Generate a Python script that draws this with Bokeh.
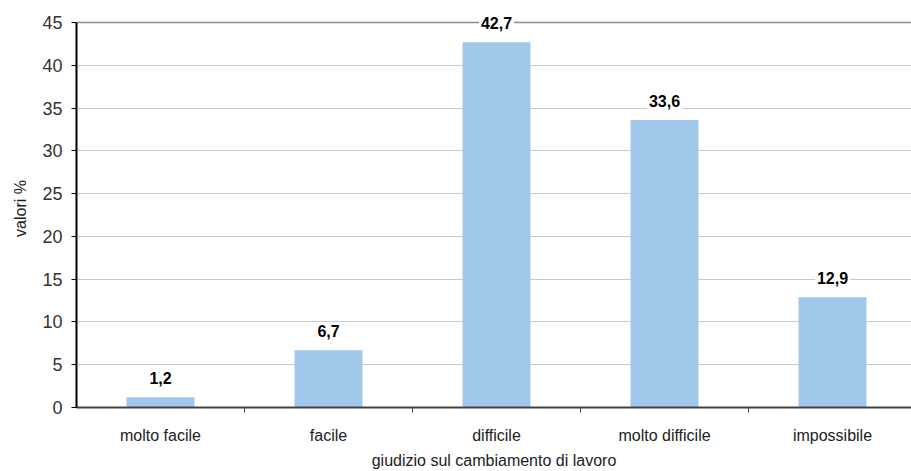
from bokeh.plotting import figure
from bokeh.models import ColumnDataSource, Range1d, FixedTicker, Span
from bokeh.core.properties import value
from bokeh.embed import file_html
from bokeh.resources import INLINE

# Values (%) for each judgement category
categories = ["molto facile", "facile", "difficile", "molto difficile", "impossibile"]
values = [1.2, 6.7, 42.7, 33.6, 12.9]
value_labels = ["1,2", "6,7", "42,7", "33,6", "12,9"]
y_ticks = [0, 5, 10, 15, 20, 25, 30, 35, 40, 45]

FONT = "Liberation Sans"
Y_MAX = 45
# a little headroom above 45 so the tallest value label is not clipped
Y_TOP = 45 * 398 / 385

centers = [i + 0.5 for i in range(len(categories))]
source = ColumnDataSource(dict(x=centers, top=values, label=value_labels))

p = figure(width=911, height=471, output_backend="svg", toolbar_location=None,
           x_range=Range1d(0, 835 / 168), y_range=Range1d(0, Y_TOP),
           min_border_left=76, min_border_right=0, min_border_top=9,
           min_border_bottom=64)
p.outline_line_color = None
p.background_fill_color = "white"

p.vbar(x="x", top="top", width=0.405, bottom=0, source=source,
       fill_color="#9FC8EA", line_color=None)

# value labels with a white box, so gridlines break around them
p.text(x="x", y="top", text="label", source=source,
       text_align="center", text_baseline="bottom", y_offset=-11,
       text_font=value(FONT), text_font_size="16px", text_font_style="bold",
       text_color="black", background_fill_color="white", padding=2)

# x axis: labels at centers, ticks at category boundaries
p.xaxis.ticker = FixedTicker(ticks=centers, minor_ticks=[1, 2, 3, 4])
p.xaxis.major_label_overrides = {c: name for c, name in zip(centers, categories)}
p.xaxis.major_tick_out = 0
p.xaxis.major_tick_in = 0
p.xaxis.minor_tick_out = 5
p.xaxis.minor_tick_in = 0
p.xaxis.minor_tick_line_color = "#404040"
p.xaxis.axis_line_color = "#404040"
p.xaxis.axis_line_width = 2
p.xaxis.major_label_standoff = 14
p.xaxis.major_label_text_font = FONT
p.xaxis.major_label_text_font_size = "16px"
p.xaxis.major_label_text_color = "#222222"
p.xaxis.axis_label = "giudizio sul cambiamento di lavoro"
p.xaxis.axis_label_text_font = FONT
p.xaxis.axis_label_text_font_size = "16px"
p.xaxis.axis_label_text_font_style = "normal"
p.xaxis.axis_label_text_color = "#222222"
p.xaxis.axis_label_standoff = 5

# y axis
p.yaxis.ticker = FixedTicker(ticks=y_ticks)
p.yaxis.bounds = (0, Y_MAX)
p.yaxis.minor_tick_line_color = None
p.yaxis.major_tick_out = 5
p.yaxis.major_tick_in = 0
p.yaxis.major_tick_line_color = "black"
p.yaxis.axis_line_color = "black"
p.yaxis.axis_line_width = 2
p.yaxis.major_label_standoff = 9
p.yaxis.major_label_text_font = FONT
p.yaxis.major_label_text_font_size = "18px"
p.yaxis.major_label_text_color = "#333333"
p.yaxis.axis_label = "valori %"
p.yaxis.axis_label_text_font = FONT
p.yaxis.axis_label_text_font_size = "16px"
p.yaxis.axis_label_text_font_style = "normal"
p.yaxis.axis_label_text_color = "#222222"
p.yaxis.axis_label_standoff = 10

p.xgrid.grid_line_color = None
p.ygrid.ticker = FixedTicker(ticks=y_ticks[1:-1])
p.ygrid.grid_line_color = "#C8C8C8"
p.ygrid.grid_line_width = 1
p.ygrid.level = "underlay"

top_line = Span(location=Y_MAX, dimension="width", line_color="#8C8C8C", line_width=1.5,
                level="underlay")
p.add_layout(top_line)

open("out.html", "w").write(file_html(p, INLINE))
